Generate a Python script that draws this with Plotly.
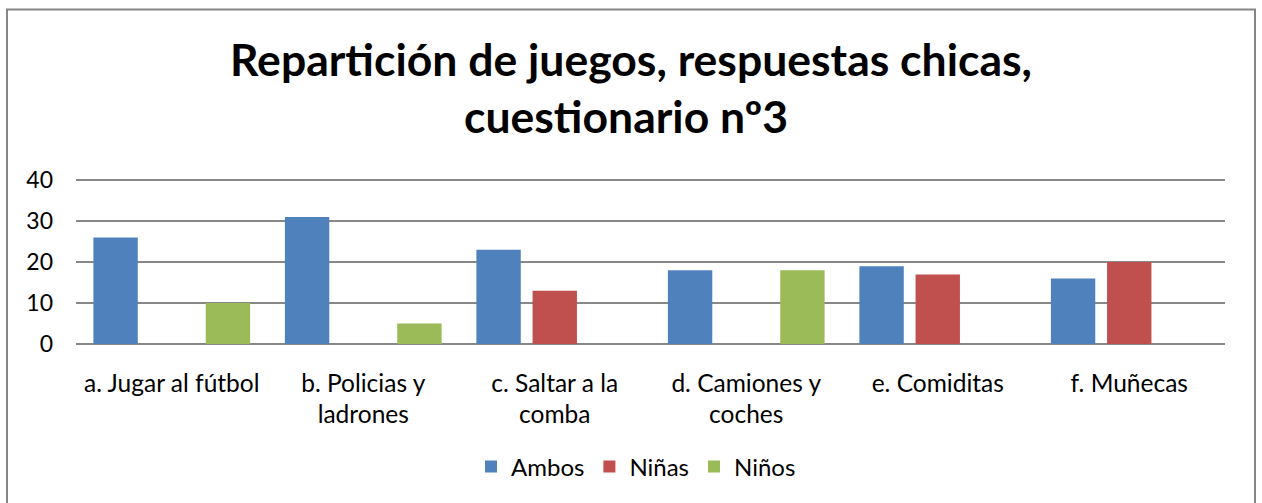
import plotly.graph_objects as go

categories = ["a. Jugar al fútbol", "b. Policias y<br>ladrones", "c. Saltar a la<br>comba",
              "d. Camiones y<br>coches", "e. Comiditas", "f. Muñecas"]
ambos = [26, 31, 23, 18, 19, 16]
ninas = [0, 0, 13, 0, 17, 20]
ninos = [10, 5, 0, 18, 0, 0]
y_ticks = [0, 10, 20, 30, 40]

W, H = 1262, 503
YMAX = 40.3
L, R, B = 76, 1225, 344
ppu = (344 - 180) / 40.0
T = B - YMAX * ppu
pw, ph = R - L, B - T

def px(x):
    return (x - L) / pw

def py(y):
    return (B - y) / ph

FONT = "Lato"
fig = go.Figure()
fig.add_trace(go.Bar(name="Ambos", x=categories, y=ambos, marker=dict(color="#4F81BD", line=dict(width=0))))
fig.add_trace(go.Bar(name="Niñas", x=categories, y=ninas, marker=dict(color="#C0504D", line=dict(width=0))))
fig.add_trace(go.Bar(name="Niños", x=categories, y=ninos, marker=dict(color="#9BBB59", line=dict(width=0))))

fig.update_layout(
    width=W, height=H,
    margin=dict(l=L, r=W - R, t=T, b=H - B, autoexpand=False),
    paper_bgcolor="white", plot_bgcolor="white",
    barmode="group", bargap=0.12, bargroupgap=0.21,
    font=dict(family=FONT, color="#000000", size=24),
    showlegend=True,
    legend=dict(orientation="h", x=px(636), xanchor="center", y=py(467), yanchor="middle",
                font=dict(size=24, family=FONT), traceorder="normal"),
    xaxis=dict(showgrid=False, showline=False, ticks="", ticklabelstandoff=22,
               tickfont=dict(size=24.5, family=FONT), zeroline=False),
    yaxis=dict(range=[0, YMAX], tickvals=y_ticks, showgrid=True, gridcolor="#888888", gridwidth=2,
               zeroline=True, zerolinecolor="#888888", zerolinewidth=2, showline=False,
               ticks="", ticklabelstandoff=22, tickfont=dict(size=23, family=FONT)),
)

fig.add_annotation(text="<b>Repartición de juegos, respuestas chicas,</b>", xref="paper", yref="paper",
                   x=px(631), y=py(58), xanchor="center", yanchor="middle", showarrow=False,
                   font=dict(size=44.5, family=FONT, color="#000000"))
fig.add_annotation(text="<b>cuestionario nº3</b>", xref="paper", yref="paper",
                   x=px(626), y=py(115), xanchor="center", yanchor="middle", showarrow=False,
                   font=dict(size=44.5, family=FONT, color="#000000"))

fig.add_shape(type="rect", xref="paper", yref="paper", x0=px(7), x1=px(1255), y0=py(530), y1=py(9),
              line=dict(color="#868686", width=2), fillcolor="rgba(0,0,0,0)", layer="below")

fig.write_html("out.html", config={"displayModeBar": False},
               post_script="document.body.style.margin='0';")
